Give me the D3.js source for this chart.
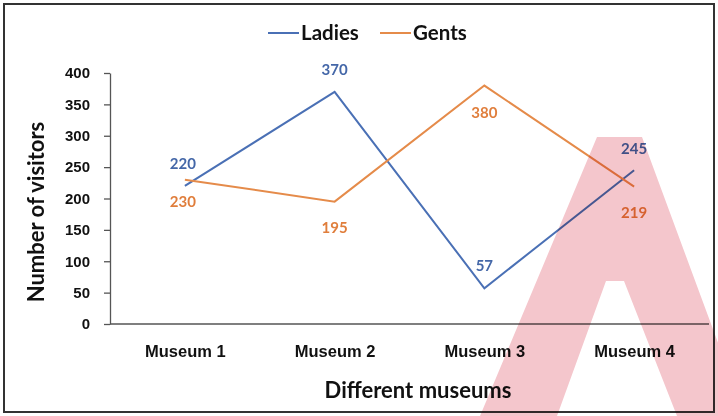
<!DOCTYPE html>
<html>
<head>
<meta charset="utf-8">
<script src="https://cdn.jsdelivr.net/npm/d3@7"></script>
<style>
  body { margin: 0; background: #fff; }
  svg { display: block; font-family: Lato, "Open Sans", sans-serif; font-weight: bold; }
  .axis path, .axis line { stroke: #555; stroke-width: 1.3; }
  .axis text { fill: #111; font-size: 15px; font-weight: bold; }
  .x-axis text { font-size: 16.5px; }
</style>
</head>
<body>
<div id="chart"></div>
<script>
// chart data
var museums = ["Museum 1", "Museum 2", "Museum 3", "Museum 4"];
var ladies = [220, 370, 57, 245];
var gents = [230, 195, 380, 219];
var yTicks = [0, 50, 100, 150, 200, 250, 300, 350, 400];

var svgWidth = 718;
var svgHeight = 416;

var margin = {
    top: 73,
    right: 9,
    bottom: 92,
    left: 110
};

var width = svgWidth - margin.left - margin.right;
var height = svgHeight - margin.top - margin.bottom;

var svg = d3.select("#chart")
    .append("svg")
    .attr("width", svgWidth)
    .attr("height", svgHeight);

// outer frame
svg.append("rect")
    .attr("x", 4)
    .attr("y", 4)
    .attr("width", 710)
    .attr("height", 408)
    .attr("fill", "#fff")
    .attr("stroke", "#333")
    .attr("stroke-width", 2);

var chartGroup = svg.append("g")
    .attr("transform", `translate(${margin.left}, ${margin.top})`);

var xScale = d3.scalePoint()
    .domain(museums)
    .range([0, width])
    .padding(0.5);

var yScale = d3.scaleLinear()
    .domain([0, 400])
    .range([height, 0]);

// axes
var leftAxis = d3.axisLeft(yScale)
    .tickValues(yTicks)
    .tickSize(6)
    .tickSizeOuter(0)
    .tickPadding(14);

chartGroup.append("g")
    .attr("class", "axis")
    .call(leftAxis);

var bottomAxis = d3.axisBottom(xScale)
    .tickSize(0)
    .tickSizeOuter(0)
    .tickPadding(21);

var xAxisG = chartGroup.append("g")
    .attr("class", "axis x-axis")
    .attr("transform", `translate(0, ${height})`)
    .call(bottomAxis);
xAxisG.select(".domain").attr("d", `M0,0H${width}`);

// series
var series = [
    { name: "Ladies", values: ladies, color: "#4a70b5", text: "#4467a8" },
    { name: "Gents", values: gents, color: "#e58b4a", text: "#e07e3c" }
];

var line = d3.line()
    .x((d, i) => xScale(museums[i]))
    .y(d => yScale(d));

chartGroup.selectAll(".series")
    .data(series)
    .enter()
    .append("path")
    .attr("class", "series")
    .attr("d", s => line(s.values))
    .attr("fill", "none")
    .attr("stroke", s => s.color)
    .attr("stroke-width", 2);

// data labels: Ladies above the point, Gents below
var ladiesOffset = [-17, -17, -17, -16];
var gentsOffset = [27, 31, 32, 31];

chartGroup.selectAll(".lbl-ladies")
    .data(ladies)
    .enter()
    .append("text")
    .attr("class", "lbl-ladies")
    .attr("x", (d, i) => xScale(museums[i]) + (i == 0 ? -2 : 0))
    .attr("y", (d, i) => yScale(d) + ladiesOffset[i])
    .attr("text-anchor", "middle")
    .attr("fill", series[0].text)
    .style("font-size", "15px")
    .text(d => d);

chartGroup.selectAll(".lbl-gents")
    .data(gents)
    .enter()
    .append("text")
    .attr("class", "lbl-gents")
    .attr("x", (d, i) => xScale(museums[i]) + (i == 0 ? -2 : 0))
    .attr("y", (d, i) => yScale(d) + gentsOffset[i])
    .attr("text-anchor", "middle")
    .attr("fill", series[1].text)
    .style("font-size", "15px")
    .text(d => d);

// axis titles
svg.append("text")
    .attr("transform", "translate(44, 212) rotate(-90)")
    .attr("text-anchor", "middle")
    .style("font-size", "22px")
    .attr("fill", "#111")
    .text("Number of visitors");

svg.append("text")
    .attr("x", 418)
    .attr("y", 398)
    .attr("text-anchor", "middle")
    .style("font-size", "22px")
    .attr("fill", "#111")
    .text("Different museums");

// legend
var legend = svg.append("g")
    .attr("transform", "translate(268, 33)");

var legendItem = legend.selectAll("g")
    .data(series)
    .enter()
    .append("g")
    .attr("transform", (d, i) => `translate(${i * 112}, 0)`);

legendItem.append("line")
    .attr("x1", 0)
    .attr("x2", 31)
    .attr("stroke", d => d.color)
    .attr("stroke-width", 2);

legendItem.append("text")
    .attr("x", 33)
    .attr("y", 7)
    .style("font-size", "20.5px")
    .attr("fill", "#111")
    .text(d => d.name);

// pink watermark in the lower right corner
var outer = [[597, 137], [642, 137], [745, 416], [480, 416]];
var inner = [[606, 281], [624, 281], [677, 416], [557, 416]];
svg.append("path")
    .attr("d", "M" + outer.join("L") + "Z M" + inner.join("L") + "Z")
    .attr("fill", "#f4c6cc")
    .attr("fill-rule", "evenodd")
    .style("mix-blend-mode", "multiply");
</script>
</body>
</html>
